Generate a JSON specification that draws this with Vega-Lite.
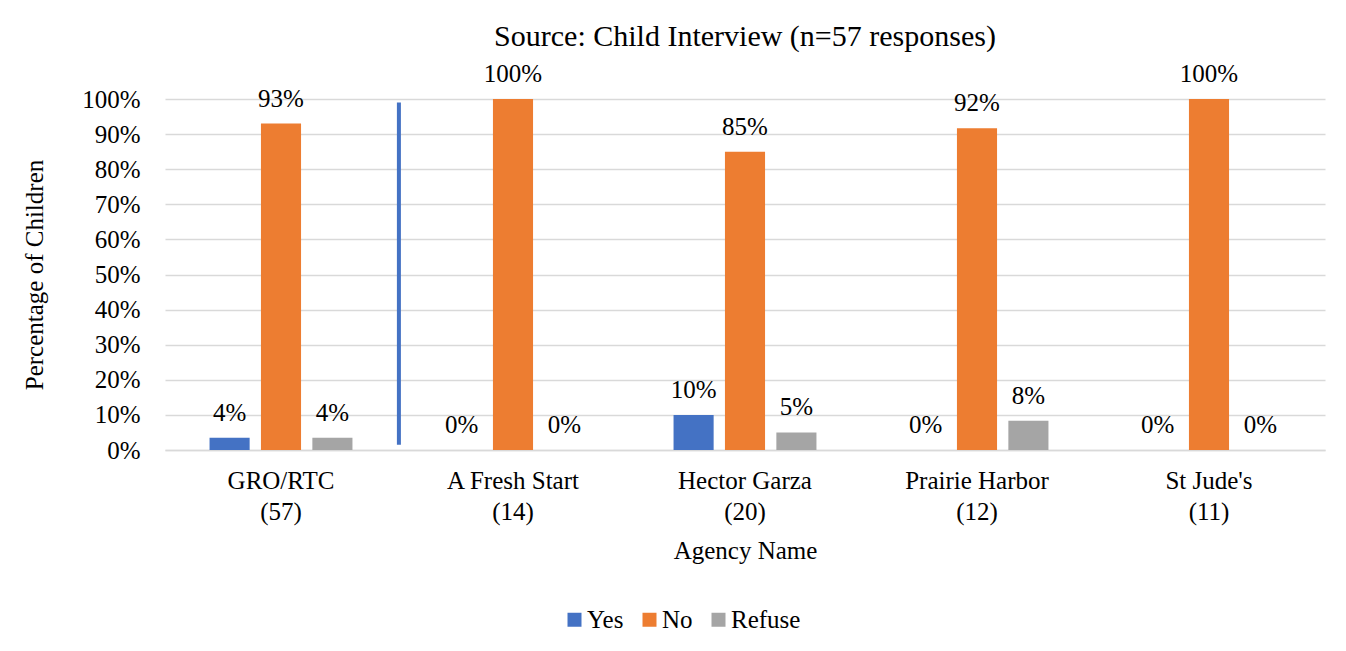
{
  "$schema": "https://vega.github.io/schema/vega-lite/v6.json",
  "autosize": "none",
  "width": 1160,
  "height": 351,
  "padding": {"left": 165, "top": 99, "right": 21, "bottom": 201},
  "background": "white",
  "config": {
    "font": "Liberation Serif",
    "view": {"stroke": null},
    "axis": {"labelFont": "Liberation Serif", "titleFont": "Liberation Serif", "labelColor": "#000000", "titleColor": "#000000", "titleFontWeight": "normal"},
    "legend": {"labelFont": "Liberation Serif"}
  },
  "title": {"text": "Source: Child Interview (n=57 responses)", "font": "Liberation Serif", "fontSize": 30, "fontWeight": "normal", "color": "#000000", "offset": 10},
  "data": {"values": [
    {"agency": "GRO/RTC|(57)", "response": "Yes", "pct": 0.035},
    {"agency": "GRO/RTC|(57)", "response": "No", "pct": 0.93},
    {"agency": "GRO/RTC|(57)", "response": "Refuse", "pct": 0.035},
    {"agency": "A Fresh Start|(14)", "response": "Yes", "pct": 0},
    {"agency": "A Fresh Start|(14)", "response": "No", "pct": 1.0},
    {"agency": "A Fresh Start|(14)", "response": "Refuse", "pct": 0},
    {"agency": "Hector Garza|(20)", "response": "Yes", "pct": 0.10},
    {"agency": "Hector Garza|(20)", "response": "No", "pct": 0.85},
    {"agency": "Hector Garza|(20)", "response": "Refuse", "pct": 0.05},
    {"agency": "Prairie Harbor|(12)", "response": "Yes", "pct": 0},
    {"agency": "Prairie Harbor|(12)", "response": "No", "pct": 0.917},
    {"agency": "Prairie Harbor|(12)", "response": "Refuse", "pct": 0.083},
    {"agency": "St Jude's|(11)", "response": "Yes", "pct": 0},
    {"agency": "St Jude's|(11)", "response": "No", "pct": 1.0},
    {"agency": "St Jude's|(11)", "response": "Refuse", "pct": 0}
  ]},
  "encoding": {
    "x": {"field": "agency", "type": "nominal", "sort": null,
      "scale": {"paddingInner": 0.384, "paddingOuter": 0.192},
      "axis": {"title": "Agency Name", "labelAngle": 0, "labelFontSize": 25, "titleFontSize": 25, "labelExpr": "split(datum.value, '|')", "labelLineHeight": 31, "labelPadding": 18, "titlePadding": 14, "ticks": false, "domainColor": "#D9D9D9", "domainWidth": 1.5, "labelBaseline": "top"}},
    "xOffset": {"field": "response", "type": "nominal", "sort": ["Yes", "No", "Refuse"], "scale": {"paddingInner": 0.22, "paddingOuter": 0}},
    "y": {"field": "pct", "type": "quantitative",
      "scale": {"domain": [0, 1]},
      "axis": {"title": "Percentage of Children", "format": ".0%", "values": [0, 0.1, 0.2, 0.3, 0.4, 0.5, 0.6, 0.7, 0.8, 0.9, 1.0], "labelOverlap": false, "labelFontSize": 25, "titleFontSize": 25, "gridColor": "#D9D9D9", "gridWidth": 1.5, "domain": false, "ticks": false, "labelPadding": 25, "titlePadding": 34}}
  },
  "layer": [
    {"mark": {"type": "bar"},
     "encoding": {"color": {"field": "response", "type": "nominal", "sort": ["Yes", "No", "Refuse"],
        "scale": {"domain": ["Yes", "No", "Refuse"], "range": ["#4472C4", "#ED7D31", "#A5A5A5"]},
        "legend": {"title": null, "orient": "none", "legendX": 397, "legendY": 508, "direction": "horizontal", "labelFontSize": 25, "symbolType": "square", "symbolSize": 196, "symbolStrokeWidth": 0, "columnPadding": 13, "labelOffset": 0}}}},
    {"mark": {"type": "text", "fontSize": 25, "dy": -25, "color": "#000000", "font": "Liberation Serif"},
     "encoding": {"text": {"field": "pct", "type": "quantitative", "format": ".0%"}}},
    {"data": {"values": [{"agency": "GRO/RTC|(57)", "y1": 0.015, "y2": 0.99}]},
     "mark": {"type": "rule", "color": "#4472C4", "strokeWidth": 4},
     "encoding": {"x": {"field": "agency", "type": "nominal", "bandPosition": 1.325}, "xOffset": null, "y": {"field": "y1", "type": "quantitative"}, "y2": {"field": "y2"}}}
  ]
}
